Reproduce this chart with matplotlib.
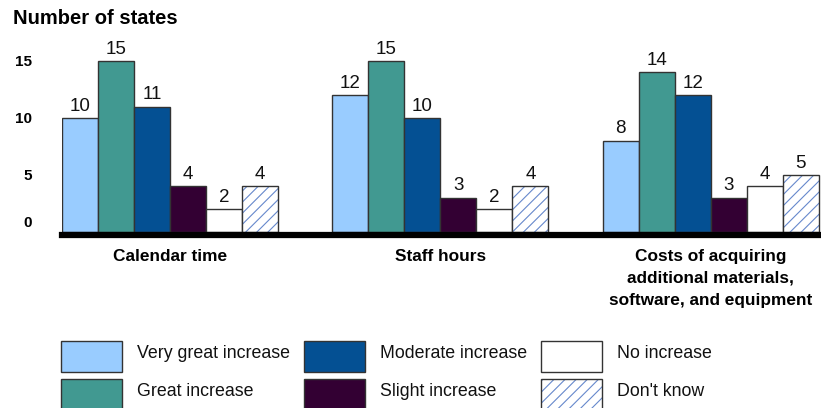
import numpy as np
import matplotlib
matplotlib.use('Agg')
import matplotlib.pyplot as plt
from matplotlib.patches import Rectangle

plt.rcParams['font.family'] = ['Liberation Sans', 'DejaVu Sans']
plt.rcParams['hatch.linewidth'] = 0.8

# ── Data ──────────────────────────────────────────────────────────
categories = ['Calendar time', 'Staff hours',
              'Costs of acquiring\nadditional materials,\nsoftware, and equipment']
responses = ['Very great increase', 'Great increase', 'Moderate increase',
             'Slight increase', 'No increase', "Don't know"]
very_great = [10, 12, 8]
great      = [15, 15, 14]
moderate   = [11, 10, 12]
slight     = [4, 3, 3]
no_incr    = [2, 2, 4]
dont_know  = [4, 4, 5]
series = [very_great, great, moderate, slight, no_incr, dont_know]

colors = ['#99CCFF', '#419991', '#045093', '#330033', '#FFFFFF', '#FFFFFF']
hatches = [None, None, None, None, None, '///']
EDGE = '#333333'
HATCH_COL = '#6688CC'

# ── Layout ────────────────────────────────────────────────────────
W, H = 821, 408
fig = plt.figure(figsize=(W / 100, H / 100), dpi=100)
ymax = 17.0
px_per_unit = 11.4
ax_left, ax_bottom = 62, 232
ax_h = ymax * px_per_unit
ax = fig.add_axes([ax_left / W, 1 - ax_bottom / H, (W - ax_left) / W, ax_h / H])

bar_w = 1.0
group_step = 7.51
group_starts = np.arange(len(categories)) * group_step

for i, (vals, col, hat) in enumerate(zip(series, colors, hatches)):
    xs = group_starts + i * bar_w + bar_w / 2
    ax.bar(xs, vals, width=bar_w, color=col, edgecolor=EDGE, linewidth=1.0,
           hatch=hat, zorder=3, label=responses[i])
    for x, v in zip(xs, vals):
        ax.text(x, v + 0.3, str(v), ha='center', va='bottom',
                fontsize=13.5, color='#111111', zorder=4)
# hatch colour for the "don't know" bars, dark outline drawn on top
for p in ax.containers[-1].patches:
    p.set_edgecolor(HATCH_COL)
    p.set_linewidth(0)
    ax.add_patch(Rectangle(p.get_xy(), p.get_width(), p.get_height(),
                           fill=False, edgecolor=EDGE, lw=1.0, zorder=4))

ax.set_xlim(0, (W - ax_left) / 36.0)
ax.set_ylim(0, ymax)

# thick baseline
ax.axhline(-0.22, color='black', lw=4.5, zorder=5, clip_on=False)
for sp in ax.spines.values():
    sp.set_visible(False)

ax.set_yticks([0.9, 5, 10, 15])
ax.set_yticklabels(['0', '5', '10', '15'], fontsize=11, fontweight='bold')
ax.tick_params(axis='y', length=0, pad=21.5)
ax.set_xticks([])

# group labels
for g, cat in zip(group_starts, categories):
    ax.text(g + 3, -1.45, cat, ha='center', va='top', fontsize=12.4,
            fontweight='bold', linespacing=1.62, clip_on=False)

fig.text(13 / W, 1 - 18 / H, 'Number of states', ha='left', va='center',
         fontsize=14.5, fontweight='bold')

# ── Legend (3 columns x 2 rows, drawn in figure pixels) ───────────
col_x = [61, 304, 541]
row_y = [341, 379]
box_w, box_h = 61, 31
for k, (col, hat, lab) in enumerate(zip(colors, hatches, responses)):
    c, r = divmod(k, 2)
    x0, y0 = col_x[c], row_y[r]
    fig.add_artist(Rectangle((x0 / W, 1 - (y0 + box_h) / H), box_w / W, box_h / H,
                             transform=fig.transFigure, facecolor=col,
                             edgecolor=HATCH_COL if hat else EDGE, lw=0 if hat else 1.0,
                             hatch=hat))
    if hat:
        fig.add_artist(Rectangle((x0 / W, 1 - (y0 + box_h) / H), box_w / W, box_h / H,
                                 transform=fig.transFigure, fill=False,
                                 edgecolor=EDGE, lw=1.0))
    fig.text((x0 + box_w + 15) / W, 1 - (y0 + 13) / H, lab, ha='left',
             va='center', fontsize=12.8, color='#111111')

fig.savefig('out.png', dpi=100)
